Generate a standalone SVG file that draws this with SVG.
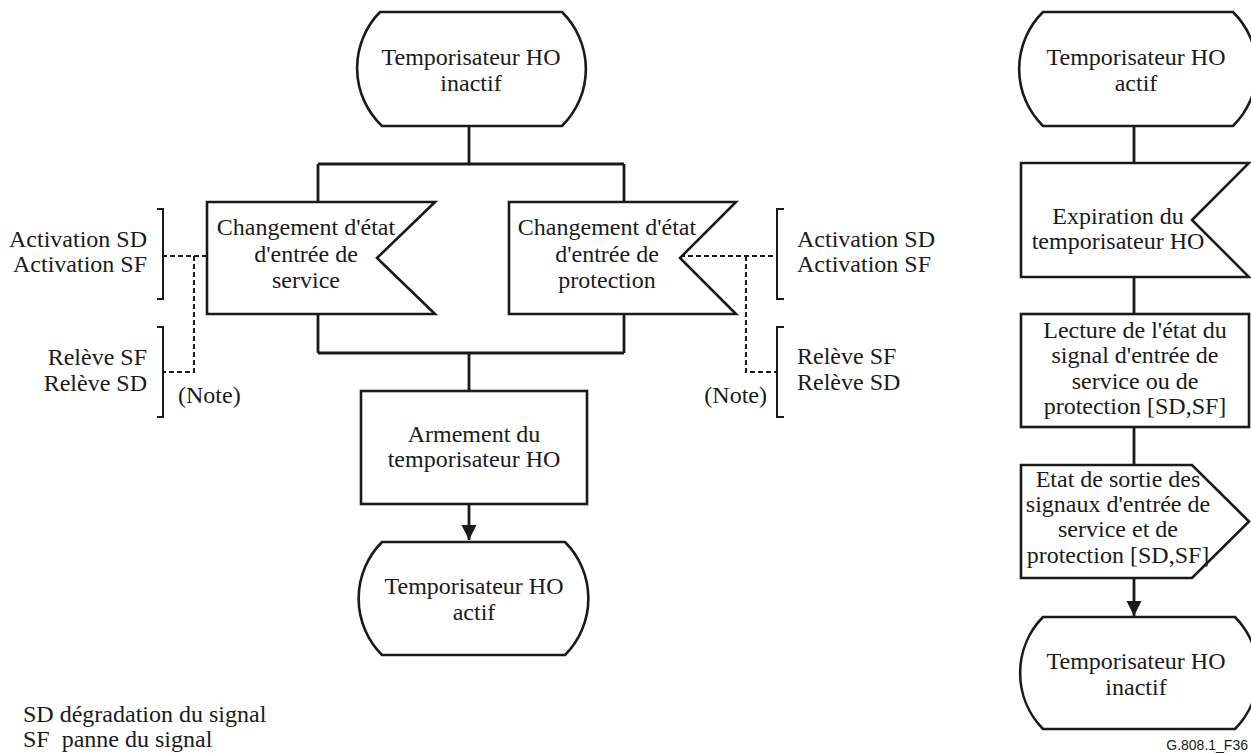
<svg xmlns="http://www.w3.org/2000/svg" width="1251" height="753" viewBox="0 0 1251 753">
  <style>
    .shape { fill: #ffffff; stroke: #1a1a1a; stroke-width: 2.6; stroke-linejoin: miter; }
    .line { fill: none; stroke: #1a1a1a; stroke-width: 2.8; }
    .dash { fill: none; stroke: #1a1a1a; stroke-width: 2; stroke-dasharray: 5 3; }
    .brk { fill: none; stroke: #1a1a1a; stroke-width: 2; }
    .c { text-anchor: middle; }
    .r { text-anchor: end; }
  </style>
  <defs>
    <marker id="arrow" markerUnits="userSpaceOnUse" markerWidth="16" markerHeight="16" viewBox="0 0 16 16" refX="15" refY="8" orient="auto">
      <path d="M0,0.5 L15,8 L0,15.5 Z" fill="#1a1a1a"/>
    </marker>
  </defs>

  <rect width="1251" height="753" fill="#ffffff"/>

  <!-- connectors -->
  <g id="connectors">
    <path class="line" d="M469,126 V164 M318,164 H624 M318,164 V202 M624,164 V202"/>
    <path class="line" d="M318,314 V353 M624,314 V353 M318,353 H624 M469,353 V391"/>
    <path class="line" d="M469,504 V540" marker-end="url(#arrow)"/>
    <path class="line" d="M1134,126 V163 M1134,277 V314 M1134,427 V465"/>
    <path class="line" d="M1134,578 V616" marker-end="url(#arrow)"/>
    <!-- dotted signal leads -->
    <path class="dash" d="M207,256 H163 M194,256 V372 H163"/>
    <path class="dash" d="M680,256 H777 M746,256 V372 H777"/>
  </g>

  <g font-family="Liberation Serif, DejaVu Serif, serif" font-size="24" fill="#1a1a1a">
  <!-- left flow -->
  <g id="state-inactive-left">
    <path class="shape" d="M380,12 H562 A80,80 0 0 1 562,126 H382 A80,80 0 0 1 380,12 Z"/>
    <text class="c" x="471" y="65">Temporisateur HO</text>
    <text class="c" x="471" y="91">inactif</text>
  </g>

  <g id="input-service">
    <path class="shape" d="M207,202 H435 L377,258 L435,314 H207 Z"/>
    <text class="c" x="306" y="235">Changement d'état</text>
    <text class="c" x="306" y="262">d'entrée de</text>
    <text class="c" x="306" y="288">service</text>
  </g>

  <g id="input-protection">
    <path class="shape" d="M509,202 H736 L680,258 L736,314 H509 Z"/>
    <text class="c" x="607" y="235">Changement d'état</text>
    <text class="c" x="607" y="262">d'entrée de</text>
    <text class="c" x="607" y="288">protection</text>
  </g>

  <g id="task-arm">
    <rect class="shape" x="361" y="391" width="226" height="113"/>
    <text class="c" x="474" y="442">Armement du</text>
    <text class="c" x="474" y="467">temporisateur HO</text>
  </g>

  <g id="state-active-left">
    <path class="shape" d="M382,542 H565 A80,80 0 0 1 565,655 H382 A80,80 0 0 1 382,542 Z"/>
    <text class="c" x="474" y="594">Temporisateur HO</text>
    <text class="c" x="474" y="620">actif</text>
  </g>

  <!-- signal labels, service side -->
  <g id="labels-service">
    <path class="brk" d="M157,209 H163 V299 H157 M157,327 H163 V417 H157"/>
    <text class="r" x="147" y="247">Activation SD</text>
    <text class="r" x="147" y="272">Activation SF</text>
    <text class="r" x="147" y="365">Relève SF</text>
    <text class="r" x="147" y="391">Relève SD</text>
    <text x="178" y="403">(Note)</text>
  </g>

  <!-- signal labels, protection side -->
  <g id="labels-protection">
    <path class="brk" d="M784,209 H777 V299 H784 M784,327 H777 V417 H784"/>
    <text x="797" y="247">Activation SD</text>
    <text x="797" y="272">Activation SF</text>
    <text x="797" y="364">Relève SF</text>
    <text x="797" y="390">Relève SD</text>
    <text class="r" x="767" y="403">(Note)</text>
  </g>

  <!-- right flow -->
  <g id="state-active-right">
    <path class="shape" d="M1043,12 H1233 A80,80 0 0 1 1233,126 H1043 A80,80 0 0 1 1043,12 Z"/>
    <text class="c" x="1136" y="65">Temporisateur HO</text>
    <text class="c" x="1136" y="91">actif</text>
  </g>

  <g id="input-expiry">
    <path class="shape" d="M1021,163 H1249 L1192,220 L1249,277 H1021 Z"/>
    <text class="c" x="1118" y="224">Expiration du</text>
    <text class="c" x="1118" y="249">temporisateur HO</text>
  </g>

  <g id="task-read">
    <rect class="shape" x="1021" y="314" width="228" height="113"/>
    <text class="c" x="1135" y="338">Lecture de l'état du</text>
    <text class="c" x="1135" y="363">signal d'entrée de</text>
    <text class="c" x="1135" y="389">service ou de</text>
    <text class="c" x="1135" y="414">protection [SD,SF]</text>
  </g>

  <g id="output-state">
    <path class="shape" d="M1021,465 H1192 L1249,521.5 L1192,578 H1021 Z"/>
    <text class="c" x="1118" y="487">Etat de sortie des</text>
    <text class="c" x="1118" y="512">signaux d'entrée de</text>
    <text class="c" x="1118" y="537">service et de</text>
    <text class="c" x="1118" y="563">protection [SD,SF]</text>
  </g>

  <g id="state-inactive-right">
    <path class="shape" d="M1043,617 H1235 A80,80 0 0 1 1235,729 H1043 A80,80 0 0 1 1043,617 Z"/>
    <text class="c" x="1136" y="669">Temporisateur HO</text>
    <text class="c" x="1136" y="695">inactif</text>
  </g>

  <!-- legend -->
  <g id="legend">
    <text x="23" y="722">SD dégradation du signal</text>
    <text x="23" y="747" xml:space="preserve">SF  panne du signal</text>
  </g>
  </g>

  <!-- figure tag -->
  <text class="r" x="1248" y="750" font-family="Liberation Sans, Arial, sans-serif" font-size="14" fill="#1a1a1a">G.808.1_F36</text>
</svg>
